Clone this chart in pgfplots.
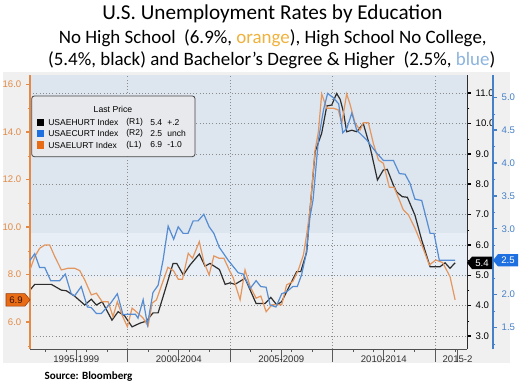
\documentclass[border=0pt]{standalone}
\usepackage{pgfplots}
\pgfplotsset{compat=1.18}
\usepackage{fontspec}
\setmainfont{Liberation Sans}
\newfontfamily\calibri{Carlito}
\definecolor{orline}{RGB}{228,150,95}
\definecolor{orax}{RGB}{226,138,70}
\definecolor{blline}{RGB}{85,140,210}
\definecolor{blax}{RGB}{70,128,200}
\definecolor{bkline}{RGB}{45,45,45}
\definecolor{panel}{RGB}{240,240,240}
\definecolor{bandA}{RGB}{221,229,238}
\definecolor{bandB}{RGB}{231,238,246}
\definecolor{bandC}{RGB}{239,239,239}
\definecolor{gridc}{RGB}{140,140,140}
\definecolor{ttlor}{RGB}{240,178,60}
\definecolor{ttlbl}{RGB}{140,180,222}
\definecolor{flagor}{RGB}{232,108,22}
\definecolor{flagbl}{RGB}{30,112,225}
\definecolor{xlab}{RGB}{50,50,50}

\pgfplotsset{
  base/.style={
    at={(22.5pt,26.25pt)}, anchor=south west,
    width=327.75pt, height=205.5pt, scale only axis,
    xmin=1995.24, xmax=2016.56,
    clip=false,
    /pgf/number format/assume math mode=true,
    tick label style={font=\fontsize{7.2}{8}\selectfont},
    yticklabel style={/pgf/number format/fixed, /pgf/number format/fixed zerofill, /pgf/number format/precision=1},
    tick align=outside,
    major tick length=3pt, minor tick length=1.8pt,
  },
}
\begin{document}
\begin{tikzpicture}
\useasboundingbox (0,0) rectangle (390pt,288pt);
\begin{scope}[x=0.75pt,y=-0.75pt,yshift=288pt]
 \fill[white] (0,0) rectangle (520,384);
 \fill[panel] (3,72) rectangle (510,363);
 \fill[bandA] (30,75) rectangle (467,233);
 \fill[bandB] (30,233) rectangle (467,277);
 \fill[bandC] (30,277) rectangle (467,349);
\end{scope}

% x axis, vertical grid
\begin{axis}[base, ymin=0, ymax=1,
  axis x line*=bottom, axis y line=none, ytick=\empty,
  x axis line style={-, draw={rgb,255:red,80;green,80;blue,80}, line width=0.6pt},
  xtick={2000,2005,2010,2015}, xticklabels={},
  major tick length=9.75pt, minor tick length=2.2pt,
  minor xtick={1996,1997,...,2016},
  xmajorgrids, major grid style={gridc, dotted, line width=0.5pt},
  x tick style={draw={rgb,255:red,90;green,90;blue,90}, line width=0.5pt},
  extra x ticks={1997.5,2002.5,2007.5,2012.5,2016.1},
  extra x tick labels={1995-1999,2000-2004,2005-2009,2010-2014,2015-2},
  extra x tick style={grid=none, tick style={draw=none}},
  xticklabel style={text=xlab, yshift=8pt},
]
\addplot[draw=none] coordinates {(2000,0.5)};
\end{axis}

% black, R1
\begin{axis}[base, ymin=2.57, ymax=11.60,
  axis y line*=right, axis x line=none, xtick=\empty,
  y axis line style={-, bkline, line width=0.7pt},
  ytick={3,4,...,11}, minor ytick={3.5,4.5,...,10.5},
  ymajorgrids, major grid style={gridc, dotted, line width=0.5pt},
  y tick style={black}, major tick style={line width=1.1pt},
  yticklabel style={text=black},
]
\addplot[bkline, line width=0.9pt] coordinates {
(1995.24,4.51) (1995.47,4.70) (1996.28,4.70) (1996.77,4.51) (1997.01,4.49)
(1997.42,4.31) (1997.91,4.02) (1998.23,4.21) (1998.48,4.02) (1998.76,4.13)
(1999.24,3.52) (1999.54,3.80) (1999.86,3.66) (2000.22,3.30) (2000.60,3.42)
(2000.92,3.49) (2001.24,3.76) (2001.49,3.76) (2001.83,4.51) (2002.22,5.39)
(2002.40,5.39) (2002.72,5.01) (2003.05,5.34) (2003.50,5.70) (2003.78,5.30)
(2004.02,5.39) (2004.48,5.19) (2004.76,4.70) (2005.00,4.75) (2005.24,4.70)
(2005.73,4.90) (2006.27,4.07) (2006.71,4.07) (2006.99,4.27) (2007.28,4.02)
(2007.52,4.13) (2007.84,4.57) (2008.25,5.12) (2008.45,5.12) (2008.74,5.77)
(2008.90,7.15) (2009.15,9.07) (2009.47,9.68) (2009.72,10.58) (2009.96,10.61)
(2010.20,10.99) (2010.37,10.80) (2010.53,10.39) (2010.69,9.73) (2010.94,9.78)
(2011.18,9.73) (2011.50,10.00) (2011.83,9.23) (2012.19,8.14) (2012.48,8.47)
(2012.67,8.49) (2012.97,7.97) (2013.12,7.75) (2013.40,7.59) (2013.65,7.57)
(2014.02,6.98) (2014.35,6.16) (2014.76,5.28) (2015.24,5.28) (2015.49,5.41)
(2015.73,5.23) (2015.98,5.41)
};
\coordinate (bkflag) at (axis cs:2016.56,5.41);
\end{axis}

% orange, L1
\begin{axis}[base, ymin=4.86, ymax=16.4,
  axis y line*=left, axis x line=none, xtick=\empty,
  y axis line style={-, orax, line width=0.8pt},
  ytick={6,8,...,16}, minor ytick={5,7,...,15},
  y tick style={orax}, major tick style={line width=1.1pt},
  yticklabel style={text=orax},
]
\addplot[orline, line width=0.9pt] coordinates {
(1995.24,8.19) (1995.47,8.75) (1995.71,9.10) (1995.96,9.24) (1996.20,9.24)
(1996.45,8.75) (1996.77,8.19) (1997.10,8.26) (1997.42,8.26) (1997.67,8.16)
(1997.91,7.77) (1998.23,7.14) (1998.48,7.21) (1998.76,6.85) (1999.05,6.85)
(1999.29,6.22) (1999.50,6.85) (1999.73,6.29) (1999.99,5.80) (2000.22,6.58)
(2000.48,6.39) (2000.76,6.16) (2001.00,5.83) (2001.20,6.79) (2001.41,6.93)
(2001.97,8.30) (2002.24,8.16) (2002.47,7.80) (2002.68,7.80) (2002.96,8.89)
(2003.17,8.68) (2003.50,9.38) (2003.73,8.50) (2003.98,7.98) (2004.21,8.78)
(2004.47,8.68) (2004.70,8.68) (2004.96,8.19) (2005.16,7.84) (2005.49,6.93)
(2005.73,8.19) (2005.98,7.49) (2006.27,7.00) (2006.50,7.09) (2006.76,6.43)
(2007.04,6.72) (2007.28,6.72) (2007.52,6.72) (2007.76,7.56) (2008.06,7.70)
(2008.33,8.19) (2008.58,8.82) (2008.77,9.87) (2008.90,10.72) (2009.15,13.24)
(2009.31,14.01) (2009.47,15.60) (2009.72,15.00) (2010.04,15.00) (2010.28,14.93)
(2010.45,14.37) (2010.69,15.60) (2010.85,15.18) (2011.10,14.37) (2011.34,14.08)
(2011.50,14.39) (2011.75,14.39) (2011.99,13.52) (2012.24,12.82) (2012.48,12.68)
(2012.77,11.67) (2013.00,11.67) (2013.29,11.07) (2013.45,10.72) (2013.70,10.51)
(2014.02,9.95) (2014.42,9.10) (2014.72,8.40) (2015.04,8.61) (2015.37,8.50)
(2015.73,7.91) (2015.98,6.93)
};
\coordinate (orflag) at (axis cs:1995.24,6.93);
\end{axis}

% blue data, R2
\begin{axis}[base, ymin=1.17, ymax=5.34, hide axis]
\addplot[blline, line width=0.9pt] coordinates {
(1995.24,2.52) (1995.47,2.62) (1995.71,2.41) (1995.96,2.41) (1996.25,2.21)
(1996.69,2.21) (1996.96,2.31) (1997.25,2.01) (1997.42,1.98) (1997.74,2.12)
(1998.04,1.81) (1998.23,1.80) (1998.48,1.71) (1998.72,1.71) (1999.18,1.87)
(1999.50,2.01) (1999.78,1.69) (2000.02,1.70) (2000.38,1.70) (2000.51,1.64)
(2000.76,1.92) (2000.97,1.54) (2001.24,2.03) (2001.49,2.14) (2001.73,2.52)
(2001.98,3.04) (2002.25,2.84) (2002.47,3.03) (2002.71,2.93) (2002.95,2.93)
(2003.20,3.12) (2003.44,3.12) (2003.72,3.22) (2003.98,3.03) (2004.21,2.93)
(2004.47,2.72) (2004.91,2.52) (2005.40,2.33) (2005.64,2.31) (2005.98,2.09)
(2006.27,2.21) (2006.50,2.12) (2006.76,2.11) (2006.95,1.84) (2007.24,1.81)
(2007.52,2.01) (2007.76,2.04) (2008.06,2.12) (2008.28,2.12) (2008.49,2.30)
(2008.70,2.60) (2008.90,3.18) (2009.05,3.44) (2009.31,4.35) (2009.56,4.81)
(2009.76,5.06) (2010.05,4.99) (2010.30,4.90) (2010.50,4.46) (2010.70,4.53)
(2010.94,4.76) (2011.18,4.50) (2011.67,4.35) (2012.16,4.15) (2012.48,4.04)
(2012.97,4.04) (2013.26,3.84) (2013.54,3.83) (2013.78,3.69) (2014.02,3.45)
(2014.35,3.43) (2014.76,2.93) (2014.95,2.93) (2015.21,2.52) (2015.98,2.52)
};
\end{axis}

% blue axis, shifted
\begin{axis}[base, at={(42pt,26.25pt)}, ymin=1.17, ymax=5.34,
  axis y line*=right, axis x line=none, xtick=\empty,
  y axis line style={-, blax, line width=0.8pt},
  ytick={1.5,2,...,5}, minor ytick={1.25,1.75,...,4.75},
  y tick style={blax}, major tick style={line width=1.1pt},
  yticklabel style={text=blax},
]
\addplot[draw=none] coordinates {(2000,2)};
\coordinate (blflag) at (axis cs:2016.56,2.52);
\end{axis}

% value flags
\begin{scope}[shift={(bkflag)}, x=0.75pt, y=-0.75pt]
  \fill[black] (0,0) -- (5,-6.2) -- (25,-6.2) -- (25,6.2) -- (5,6.2) -- cycle;
  \node[text=white, font=\fontsize{7.2}{8}\selectfont, inner sep=0] at (15,0) {5.4};
\end{scope}
\begin{scope}[shift={(blflag)}, x=0.75pt, y=-0.75pt]
  \fill[flagbl] (0,0) -- (5,-6.2) -- (25,-6.2) -- (25,6.2) -- (5,6.2) -- cycle;
  \node[text=white, font=\fontsize{7.2}{8}\selectfont, inner sep=0] at (15,0) {2.5};
\end{scope}
\begin{scope}[shift={(orflag)}, x=0.75pt, y=-0.75pt]
  \fill[flagor, draw={rgb,255:red,150;green,60;blue,10}, line width=0.4pt] (0,0) -- (-5,-6.2) -- (-24,-6.2) -- (-24,6.2) -- (-5,6.2) -- cycle;
  \node[text={rgb,255:red,60;green,20;blue,0}, font=\fontsize{7.2}{8}\selectfont, inner sep=0] at (-14,0) {6.9};
\end{scope}

% overlay: legend, titles, source
\begin{scope}[x=0.75pt,y=-0.75pt,yshift=288pt]
 \draw[rounded corners=2pt, draw={rgb,255:red,70;green,70;blue,70}, fill={rgb,255:red,231;green,233;blue,236}, line width=0.6pt] (31.7,96) rectangle (195,156.7);
 \node[font=\fontsize{6.5}{8}\selectfont, inner sep=0] at (113,109) {Last Price};
 \fill[black] (36.7,118.6) rectangle (44,126);
 \fill[flagbl] (36.7,129.6) rectangle (44,137);
 \fill[flagor] (36.7,141.3) rectangle (44,148.7);
 \begin{scope}[every node/.style={font=\fontsize{6.4}{8}\selectfont, inner sep=0, anchor=west}]
  \node at (48,122.3) {USAEHURT Index}; \node at (126,122.3) {(R1)}; \node at (150,122.3) {5.4}; \node at (167,122.3) {+.2};
  \node at (48,133.3) {USAECURT Index}; \node at (126,133.3) {(R2)}; \node at (150,133.3) {2.5}; \node at (167,133.3) {unch};
  \node at (48,145) {USAELURT Index}; \node at (126,145) {(L1)}; \node at (150,145) {6.9}; \node at (167,145) {-1.0};
 \end{scope}
 \node[anchor=base, inner sep=0, font=\calibri\fontsize{15.9}{18}\selectfont] at (272.5,19.3) {U.S. Unemployment Rates by Education};
 \node[anchor=base, inner sep=0, font=\calibri\fontsize{14.2}{16}\selectfont] at (272.8,43.3) {No High School\ \ (6.9\%, {\color{ttlor}orange}), High School No College,};
 \node[anchor=base, inner sep=0, font=\calibri\fontsize{14.2}{16}\selectfont] at (271.7,66) {(5.4\%, black) and Bachelor’s Degree \& Higher\ \ (2.5\%, {\color{ttlbl}blue})};
 \node[anchor=base west, inner sep=0, font=\calibri\bfseries\fontsize{8.3}{10}\selectfont] at (44.3,380) {Source: Bloomberg};
\end{scope}
\end{tikzpicture}
\end{document}
